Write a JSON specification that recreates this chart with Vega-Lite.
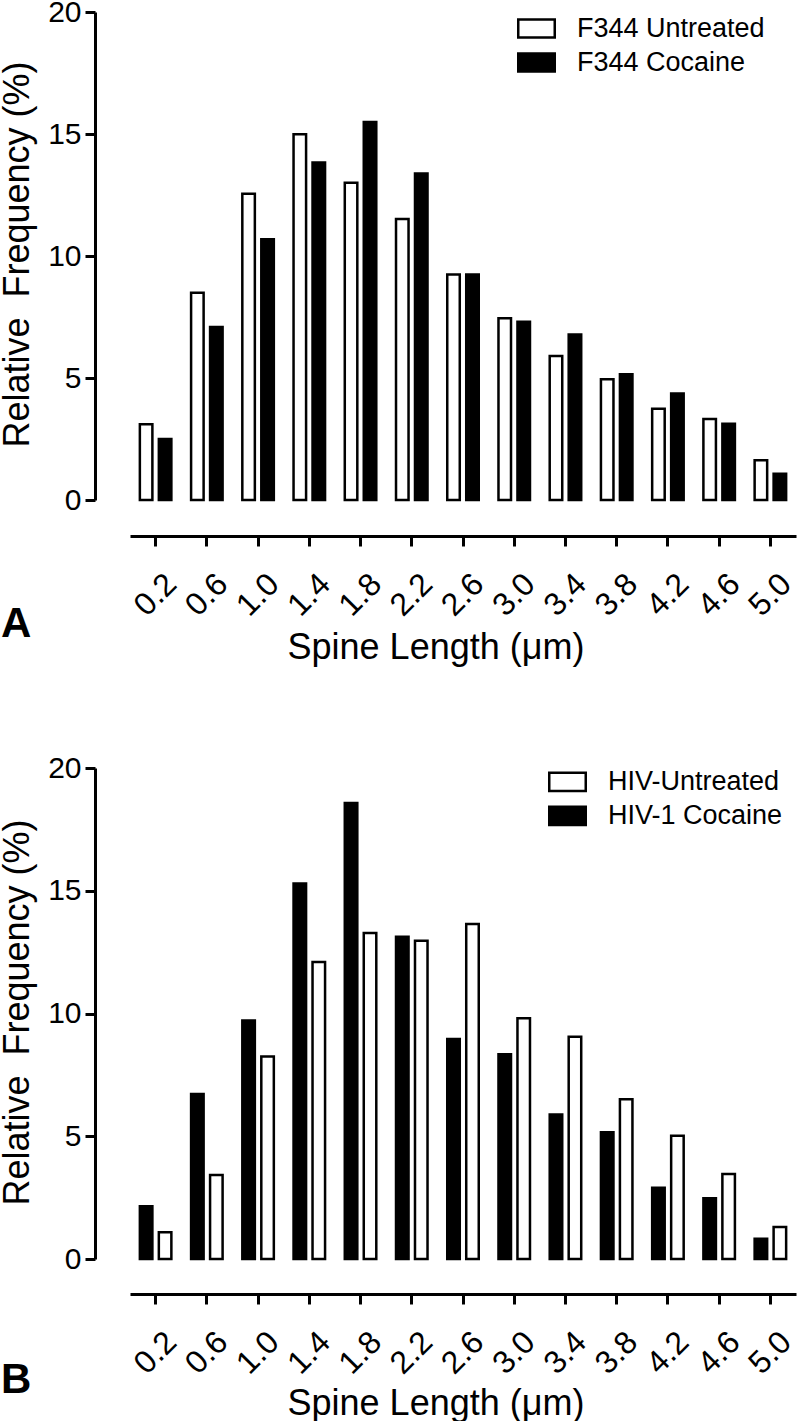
{
  "$schema": "https://vega.github.io/schema/vega-lite/v6.json",
  "padding": {"left": -2, "top": -3, "right": 0, "bottom": 0},
  "background": "white",
  "spacing": 88,
  "config": {
    "font": "Liberation Sans",
    "view": {"stroke": null},
    "axis": {"grid": false, "domainColor": "black", "tickColor": "black", "labelColor": "black", "titleColor": "black", "labelFont": "Liberation Sans", "titleFont": "Liberation Sans", "titleFontWeight": "normal"},
    "title": {"font": "Liberation Sans", "color": "black"}
  },
  "datasets": {
    "A": [
      {"length": "0.2", "group": "F344 Untreated", "freq": 3.10}, {"length": "0.2", "group": "F344 Cocaine", "freq": 2.50},
      {"length": "0.6", "group": "F344 Untreated", "freq": 8.49}, {"length": "0.6", "group": "F344 Cocaine", "freq": 7.09},
      {"length": "1.0", "group": "F344 Untreated", "freq": 12.55}, {"length": "1.0", "group": "F344 Cocaine", "freq": 10.69},
      {"length": "1.4", "group": "F344 Untreated", "freq": 14.99}, {"length": "1.4", "group": "F344 Cocaine", "freq": 13.83},
      {"length": "1.8", "group": "F344 Untreated", "freq": 13.00}, {"length": "1.8", "group": "F344 Cocaine", "freq": 15.49},
      {"length": "2.2", "group": "F344 Untreated", "freq": 11.52}, {"length": "2.2", "group": "F344 Cocaine", "freq": 13.38},
      {"length": "2.6", "group": "F344 Untreated", "freq": 9.24}, {"length": "2.6", "group": "F344 Cocaine", "freq": 9.24},
      {"length": "3.0", "group": "F344 Untreated", "freq": 7.45}, {"length": "3.0", "group": "F344 Cocaine", "freq": 7.31},
      {"length": "3.4", "group": "F344 Untreated", "freq": 5.90}, {"length": "3.4", "group": "F344 Cocaine", "freq": 6.78},
      {"length": "3.8", "group": "F344 Untreated", "freq": 4.95}, {"length": "3.8", "group": "F344 Cocaine", "freq": 5.15},
      {"length": "4.2", "group": "F344 Untreated", "freq": 3.74}, {"length": "4.2", "group": "F344 Cocaine", "freq": 4.36},
      {"length": "4.6", "group": "F344 Untreated", "freq": 3.32}, {"length": "4.6", "group": "F344 Cocaine", "freq": 3.12},
      {"length": "5.0", "group": "F344 Untreated", "freq": 1.63}, {"length": "5.0", "group": "F344 Cocaine", "freq": 1.08}
    ],
    "B": [
      {"length": "0.2", "group": "HIV-1 Cocaine", "freq": 2.15}, {"length": "0.2", "group": "HIV-Untreated", "freq": 1.09},
      {"length": "0.6", "group": "HIV-1 Cocaine", "freq": 6.72}, {"length": "0.6", "group": "HIV-Untreated", "freq": 3.42},
      {"length": "1.0", "group": "HIV-1 Cocaine", "freq": 9.71}, {"length": "1.0", "group": "HIV-Untreated", "freq": 8.25},
      {"length": "1.4", "group": "HIV-1 Cocaine", "freq": 15.30}, {"length": "1.4", "group": "HIV-Untreated", "freq": 12.10},
      {"length": "1.8", "group": "HIV-1 Cocaine", "freq": 18.57}, {"length": "1.8", "group": "HIV-Untreated", "freq": 13.28},
      {"length": "2.2", "group": "HIV-1 Cocaine", "freq": 13.13}, {"length": "2.2", "group": "HIV-Untreated", "freq": 12.96},
      {"length": "2.6", "group": "HIV-1 Cocaine", "freq": 8.96}, {"length": "2.6", "group": "HIV-Untreated", "freq": 13.65},
      {"length": "3.0", "group": "HIV-1 Cocaine", "freq": 8.34}, {"length": "3.0", "group": "HIV-Untreated", "freq": 9.81},
      {"length": "3.4", "group": "HIV-1 Cocaine", "freq": 5.89}, {"length": "3.4", "group": "HIV-Untreated", "freq": 9.05},
      {"length": "3.8", "group": "HIV-1 Cocaine", "freq": 5.16}, {"length": "3.8", "group": "HIV-Untreated", "freq": 6.51},
      {"length": "4.2", "group": "HIV-1 Cocaine", "freq": 2.90}, {"length": "4.2", "group": "HIV-Untreated", "freq": 5.02},
      {"length": "4.6", "group": "HIV-1 Cocaine", "freq": 2.47}, {"length": "4.6", "group": "HIV-Untreated", "freq": 3.46},
      {"length": "5.0", "group": "HIV-1 Cocaine", "freq": 0.82}, {"length": "5.0", "group": "HIV-Untreated", "freq": 1.30}
    ]
  },
  "vconcat": [
    {
      "data": {"name": "A"},
      "width": 666,
      "height": 488,
      "title": {"text": "A", "orient": "bottom", "anchor": "start", "frame": "bounds", "fontSize": 42, "fontWeight": "bold", "offset": -61, "dx": 2},
      "mark": {"type": "bar", "stroke": "black", "strokeWidth": 2.5},
      "encoding": {
        "x": {
          "field": "length", "type": "ordinal",
          "scale": {"paddingInner": 0.385, "paddingOuter": 0.1925},
          "axis": {"offset": 36, "domainWidth": 3, "tickWidth": 3, "tickSize": 10, "labelAngle": -45, "labelFontSize": 32, "labelPadding": 22, "labelOffset": 5, "title": "Spine Length (μm)", "titleFontSize": 36, "titleX": 305.5, "titleY": 122, "titleAlign": "center", "titleBaseline": "alphabetic"}
        },
        "xOffset": {"field": "group", "type": "nominal", "sort": ["F344 Untreated", "F344 Cocaine"], "scale": {"paddingInner": 0.34, "paddingOuter": 0}},
        "y": {
          "field": "freq", "type": "quantitative",
          "scale": {"domain": [0, 20], "nice": false},
          "axis": {"values": [0, 5, 10, 15, 20], "offset": 35, "domainWidth": 3, "tickWidth": 3, "tickSize": 10, "labelFontSize": 30, "labelPadding": 4, "title": "Relative\u00a0 Frequency (%)", "titleFontSize": 36, "titleAngle": -90, "titleX": -67, "titleY": 242, "titleAlign": "center", "titleBaseline": "alphabetic"}
        },
        "fill": {
          "field": "group", "type": "nominal",
          "scale": {"domain": ["F344 Untreated", "F344 Cocaine"], "range": ["white", "black"]},
          "legend": {"title": null, "orient": "none", "legendX": 387, "legendY": -3, "symbolType": "M-1,-0.5H1V0.5H-1Z", "symbolSize": 1332, "symbolStrokeWidth": 2.5, "symbolStrokeColor": "black", "symbolOpacity": 1, "labelFontSize": 27, "labelFont": "Liberation Sans", "labelColor": "black", "labelOffset": 21, "rowPadding": 0, "labelLimit": 400}
        }
      }
    },
    {
      "data": {"name": "B"},
      "width": 666,
      "height": 491,
      "title": {"text": "B", "orient": "bottom", "anchor": "start", "frame": "bounds", "fontSize": 42, "fontWeight": "bold", "offset": -61, "dx": 2},
      "mark": {"type": "bar", "stroke": "black", "strokeWidth": 2.5},
      "encoding": {
        "x": {
          "field": "length", "type": "ordinal",
          "scale": {"paddingInner": 0.385, "paddingOuter": 0.1925},
          "axis": {"offset": 35, "domainWidth": 3, "tickWidth": 3, "tickSize": 10, "labelAngle": -45, "labelFontSize": 32, "labelPadding": 22, "labelOffset": 5, "title": "Spine Length (μm)", "titleFontSize": 36, "titleX": 305.5, "titleY": 120, "titleAlign": "center", "titleBaseline": "alphabetic"}
        },
        "xOffset": {"field": "group", "type": "nominal", "sort": ["HIV-1 Cocaine", "HIV-Untreated"], "scale": {"paddingInner": 0.34, "paddingOuter": 0}},
        "y": {
          "field": "freq", "type": "quantitative",
          "scale": {"domain": [0, 20], "nice": false},
          "axis": {"values": [0, 5, 10, 15, 20], "offset": 35, "domainWidth": 3, "tickWidth": 3, "tickSize": 10, "labelFontSize": 30, "labelPadding": 4, "title": "Relative\u00a0 Frequency (%)", "titleFontSize": 36, "titleAngle": -90, "titleX": -67, "titleY": 244, "titleAlign": "center", "titleBaseline": "alphabetic"}
        },
        "fill": {
          "field": "group", "type": "nominal",
          "scale": {"domain": ["HIV-Untreated", "HIV-1 Cocaine"], "range": ["white", "black"]},
          "legend": {"title": null, "orient": "none", "legendX": 418, "legendY": -5.6, "symbolType": "M-1,-0.5H1V0.5H-1Z", "symbolSize": 1332, "symbolStrokeWidth": 2.5, "symbolStrokeColor": "black", "symbolOpacity": 1, "labelFontSize": 27, "labelFont": "Liberation Sans", "labelColor": "black", "labelOffset": 21, "rowPadding": 0, "labelLimit": 400}
        }
      }
    }
  ],
  "resolve": {"scale": {"fill": "independent", "xOffset": "independent"}}
}
